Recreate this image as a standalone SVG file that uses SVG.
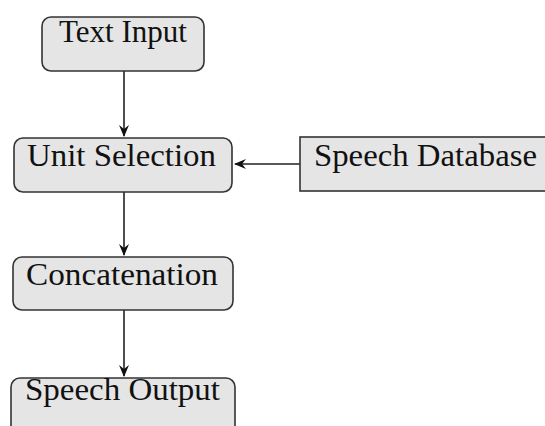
<svg xmlns="http://www.w3.org/2000/svg" width="545" height="426" viewBox="0 0 545 426">
<style>
.box{fill:#e5e5e5;stroke:#333;stroke-width:1.6}
.lbl{font-family:"Liberation Serif","Times New Roman",serif;font-size:31px;fill:#111}
.edge{stroke:#222;stroke-width:1.6;fill:none}
</style>
<defs>
<marker id="arr" viewBox="0 0 12 10" refX="11" refY="5" markerWidth="12" markerHeight="10" markerUnits="userSpaceOnUse" orient="auto">
<path d="M0,0 L12,5 L0,10 L4,5 Z" fill="#111"/>
</marker>
</defs>
<rect width="545" height="426" fill="#fff"/>
<g id="connectors">
<line class="edge" x1="124" y1="71" x2="124" y2="136" marker-end="url(#arr)"/>
<line class="edge" x1="300" y1="164" x2="235" y2="164" marker-end="url(#arr)"/>
<line class="edge" x1="124" y1="192" x2="124" y2="255" marker-end="url(#arr)"/>
<line class="edge" x1="124" y1="310" x2="124" y2="376" marker-end="url(#arr)"/>
</g>
<g id="text-input">
<rect class="box" x="42" y="17" width="162" height="54" rx="9"/>
<text class="lbl" x="59" y="42" textLength="128" lengthAdjust="spacingAndGlyphs">Text Input</text>
</g>
<g id="unit-selection">
<rect class="box" x="14" y="138" width="218" height="54" rx="9"/>
<text class="lbl" x="27" y="166" textLength="189" lengthAdjust="spacingAndGlyphs">Unit Selection</text>
</g>
<g id="speech-database">
<rect class="box" x="300" y="137" width="250" height="54"/>
<text class="lbl" x="314" y="166" textLength="223" lengthAdjust="spacingAndGlyphs">Speech Database</text>
</g>
<g id="concatenation">
<rect class="box" x="13" y="257" width="220" height="53" rx="9"/>
<text class="lbl" x="26" y="285" textLength="192" lengthAdjust="spacingAndGlyphs">Concatenation</text>
</g>
<g id="speech-output">
<rect class="box" x="11" y="378" width="224" height="60" rx="9"/>
<text class="lbl" x="25" y="400" textLength="195" lengthAdjust="spacingAndGlyphs">Speech Output</text>
</g>
</svg>
